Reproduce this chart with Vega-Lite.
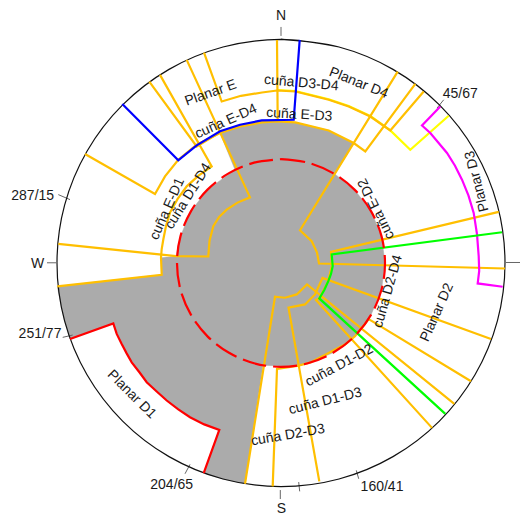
{"$schema":"https://vega.github.io/schema/vega-lite/v6.json","width":525,"height":516,"padding":0,"autosize":{"type":"fit","contains":"padding"},"background":"white","config":{"view":{"stroke":null}},
"datasets":{
"zone":[{"i":0,"x":-105,"y":6.8},{"i":1,"x":-100.5,"y":26.9},{"i":2,"x":-90,"y":52},{"i":3,"x":-73.5,"y":73.5},{"i":4,"x":-46,"y":93.5},{"i":5,"x":-61,"y":130.2},{"i":6,"x":-41,"y":136.8},{"i":7,"x":-19.3,"y":140.8},{"i":8,"x":-4,"y":141.8},{"i":9,"x":14.3,"y":140.8},{"i":10,"x":47.7,"y":132.8},{"i":11,"x":72.7,"y":120.2},{"i":12,"x":54,"y":89},{"i":13,"x":73.5,"y":73.5},{"i":14,"x":90,"y":52},{"i":15,"x":100.5,"y":26.9},{"i":16,"x":104,"y":0},{"i":17,"x":100.5,"y":-26.9},{"i":18,"x":90,"y":-52},{"i":19,"x":73.5,"y":-73.5},{"i":20,"x":52,"y":-90},{"i":21,"x":26.9,"y":-100.5},{"i":22,"x":9,"y":-103.6},{"i":23,"x":-18,"y":-102.4},{"i":24,"x":-36,"y":-221.2},{"i":25,"x":-58,"y":-216.4},{"i":26,"x":-77.3,"y":-210.5},{"i":27,"x":-61.7,"y":-167.2},{"i":27.5,"x":-76.8,"y":-161.7},{"i":28,"x":-91,"y":-154.5},{"i":28.5,"x":-102.7,"y":-146.6},{"i":29,"x":-114.3,"y":-137.8},{"i":29.5,"x":-124.3,"y":-128.8},{"i":30,"x":-134.3,"y":-119.5},{"i":30.5,"x":-141.6,"y":-109.5},{"i":31,"x":-149.3,"y":-99.5},{"i":31.5,"x":-154.5,"y":-90.3},{"i":32,"x":-159.3,"y":-81.2},{"i":32.5,"x":-164.3,"y":-71.1},{"i":33,"x":-167.7,"y":-60.5},{"i":34,"x":-211,"y":-76.2},{"i":35,"x":-216.4,"y":-58},{"i":36,"x":-220.6,"y":-38.9},{"i":37,"x":-223.7,"y":-23.5},{"i":38,"x":-119.3,"y":-11.8},{"i":39,"x":-120,"y":5.5}],
"outer":[{"i":0,"x":0,"y":224},{"i":1,"x":58,"y":216.4},{"i":2,"x":112,"y":194},{"i":3,"x":158.4,"y":158.4},{"i":4,"x":194,"y":112},{"i":5,"x":216.4,"y":58},{"i":6,"x":224,"y":0},{"i":7,"x":216.4,"y":-58},{"i":8,"x":194,"y":-112},{"i":9,"x":158.4,"y":-158.4},{"i":10,"x":112,"y":-194},{"i":11,"x":58,"y":-216.4},{"i":12,"x":0,"y":-224},{"i":13,"x":-58,"y":-216.4},{"i":14,"x":-112,"y":-194},{"i":15,"x":-158.4,"y":-158.4},{"i":16,"x":-194,"y":-112},{"i":17,"x":-216.4,"y":-58},{"i":18,"x":-224,"y":0},{"i":19,"x":-216.4,"y":58},{"i":20,"x":-194,"y":112},{"i":21,"x":-158.4,"y":158.4},{"i":22,"x":-112,"y":194},{"i":23,"x":-58,"y":216.4},{"i":24,"x":0,"y":224},{"i":25,"x":58,"y":216.4}],
"ring":[{"i":0,"x":0,"y":104},{"i":1,"x":26.9,"y":100.5},{"i":2,"x":52,"y":90},{"i":3,"x":73.5,"y":73.5},{"i":4,"x":90,"y":52},{"i":5,"x":100.5,"y":26.9},{"i":6,"x":104,"y":0},{"i":7,"x":100.5,"y":-26.9},{"i":8,"x":90,"y":-52},{"i":9,"x":73.5,"y":-73.5},{"i":10,"x":52,"y":-90},{"i":11,"x":26.9,"y":-100.5},{"i":12,"x":0,"y":-104},{"i":13,"x":-26.9,"y":-100.5},{"i":14,"x":-52,"y":-90},{"i":15,"x":-73.5,"y":-73.5},{"i":16,"x":-90,"y":-52},{"i":17,"x":-100.5,"y":-26.9},{"i":18,"x":-104,"y":0},{"i":19,"x":-100.5,"y":26.9},{"i":20,"x":-90,"y":52},{"i":21,"x":-73.5,"y":73.5},{"i":22,"x":-52,"y":90},{"i":23,"x":-26.9,"y":100.5},{"i":24,"x":0,"y":104}],
"lines":[
{"s":"yellow D4","i":0,"x":167.7,"y":147.5},{"s":"yellow D4","i":1,"x":129.3,"y":113.5},{"s":"yellow D4","i":2,"x":109.3,"y":132.8},{"s":"yellow D4","i":3,"x":89.3,"y":147.3},{"s":"yellow D4","i":4,"x":67.7,"y":157.3},{"s":"yellow D4","i":5,"x":47.7,"y":164},{"s":"yellow D4","i":6,"x":14.3,"y":172.3},{"s":"yellow D4","i":7,"x":-4,"y":173.3},
{"s":"planar E","i":8,"x":142.7,"y":171.8},{"s":"planar E","i":9,"x":109.3,"y":132.8},{"s":"planar E","i":10,"x":89.3,"y":146.8},{"s":"planar E","i":11,"x":67.7,"y":156.8},{"s":"planar E","i":12,"x":47.7,"y":163.5},{"s":"planar E","i":13,"x":14.3,"y":171.8},{"s":"planar E","i":14,"x":-4,"y":172.8},{"s":"planar E","i":15,"x":-19,"y":170.8},{"s":"planar E","i":16,"x":-40,"y":167.5},{"s":"planar E","i":17,"x":-59.3,"y":161.8},{"s":"planar E","i":18,"x":-77,"y":210.8},
{"s":"wedge E-D3","i":19,"x":-196,"y":109.2},{"s":"wedge E-D3","i":20,"x":-126,"y":69.2},{"s":"wedge E-D3","i":21,"x":-116,"y":86.8},{"s":"wedge E-D3","i":22,"x":-102.7,"y":103.5},{"s":"wedge E-D3","i":23,"x":-84.3,"y":118.5},{"s":"wedge E-D3","i":24,"x":-61,"y":130.2},{"s":"wedge E-D3","i":25,"x":-41,"y":136.8},{"s":"wedge E-D3","i":26,"x":-19.3,"y":140.8},{"s":"wedge E-D3","i":27,"x":-4,"y":141.8},{"s":"wedge E-D3","i":28,"x":14.3,"y":140.8},{"s":"wedge E-D3","i":29,"x":47.7,"y":132.8},{"s":"wedge E-D3","i":30,"x":72.7,"y":120.2},{"s":"wedge E-D3","i":31,"x":84.3,"y":111.8},{"s":"wedge E-D3","i":32,"x":134.3,"y":179.5},
{"s":"wedge E-D4","i":33,"x":-131.7,"y":181.8},{"s":"wedge E-D4","i":34,"x":-84.3,"y":116.8},{"s":"wedge E-D4","i":35,"x":-61,"y":131},{"s":"wedge E-D4","i":36,"x":-41,"y":137.5},{"s":"wedge E-D4","i":37,"x":-19.3,"y":141.5},{"s":"wedge E-D4","i":38,"x":-3.3,"y":142.5},{"s":"wedge E-D4","i":39,"x":-4,"y":223.5},
{"s":"wedge D1-D4","i":40,"x":-121,"y":188.5},{"s":"wedge D1-D4","i":41,"x":-69.3,"y":96.8},{"s":"wedge D1-D4","i":41.5,"x":-82.5,"y":87.5},{"s":"wedge D1-D4","i":42,"x":-94.3,"y":76.8},{"s":"wedge D1-D4","i":42.5,"x":-103.5,"y":64},{"s":"wedge D1-D4","i":43,"x":-111,"y":50.5},{"s":"wedge D1-D4","i":43.5,"x":-115,"y":37},{"s":"wedge D1-D4","i":44,"x":-117.7,"y":23.5},{"s":"wedge D1-D4","i":44.5,"x":-119.3,"y":14},{"s":"wedge D1-D4","i":45,"x":-120,"y":5.5},{"s":"wedge D1-D4","i":46,"x":-119.3,"y":-11.8},{"s":"wedge D1-D4","i":47,"x":-223.7,"y":-23.5},
{"s":"wedge E-D1","i":48,"x":-94.3,"y":203.5},{"s":"wedge E-D1","i":49,"x":-31,"y":65.8},{"s":"wedge E-D1","i":49.5,"x":-43.5,"y":60.5},{"s":"wedge E-D1","i":50,"x":-54.3,"y":53.5},{"s":"wedge E-D1","i":50.5,"x":-62,"y":46},{"s":"wedge E-D1","i":51,"x":-67.7,"y":36.8},{"s":"wedge E-D1","i":51.5,"x":-71.5,"y":22},{"s":"wedge E-D1","i":52,"x":-72.7,"y":6.5},{"s":"wedge E-D1","i":53,"x":-105,"y":6.8},{"s":"wedge E-D1","i":54,"x":-222.7,"y":19.2},
{"s":"wedge E-D2","i":55,"x":116.7,"y":191.8},{"s":"wedge E-D2","i":56,"x":19,"y":32.8},{"s":"wedge E-D2","i":57,"x":30.7,"y":21.8},{"s":"wedge E-D2","i":58,"x":36,"y":10.5},{"s":"wedge E-D2","i":59,"x":38,"y":-0.5},{"s":"wedge E-D2","i":60,"x":224,"y":-5.5},
{"s":"wedge D1-D2","i":61,"x":151,"y":-165.2},{"s":"wedge D1-D2","i":62,"x":35,"y":-37},{"s":"wedge D1-D2","i":63,"x":38.5,"y":-35},{"s":"wedge D1-D2","i":64,"x":47,"y":-18.5},{"s":"wedge D1-D2","i":65,"x":51,"y":-2.5},{"s":"wedge D1-D2","i":66,"x":50,"y":11.2},{"s":"wedge D1-D2","i":67,"x":217.7,"y":51.2},
{"s":"wedge D2-D3","i":68,"x":-36,"y":-221.2},{"s":"wedge D2-D3","i":69,"x":-6,"y":-33.8},{"s":"wedge D2-D3","i":70,"x":4,"y":-34.8},{"s":"wedge D2-D3","i":71,"x":15.7,"y":-31.5},{"s":"wedge D2-D3","i":72,"x":26,"y":-21.5},{"s":"wedge D2-D3","i":73,"x":173.3,"y":-141.2},
{"s":"wedge D1-D3","i":74,"x":-8.3,"y":-223.8},{"s":"wedge D1-D3","i":75,"x":-4,"y":-106.2},{"s":"wedge D1-D3","i":76,"x":17.7,"y":-102.8},{"s":"wedge D1-D3","i":77,"x":30,"y":-99.5},{"s":"wedge D1-D3","i":78,"x":64.3,"y":-81.5},{"s":"wedge D1-D3","i":79,"x":74,"y":-73.5},{"s":"wedge D1-D3","i":80,"x":87.7,"y":-56.2},{"s":"wedge D1-D3","i":81,"x":190,"y":-118.5},
{"s":"wedge D2-D4","i":82,"x":210,"y":-76.2},{"s":"wedge D2-D4","i":83,"x":41.5,"y":-15},{"s":"wedge D2-D4","i":84,"x":34,"y":-31.5},{"s":"wedge D2-D4","i":85,"x":24,"y":-41.5},{"s":"wedge D2-D4","i":86,"x":7.5,"y":-44.8},{"s":"wedge D2-D4","i":87,"x":38.3,"y":-218.8},
{"s":"magenta D3","i":88,"x":159.3,"y":156.8},{"s":"magenta D3","i":89,"x":141,"y":137.8},{"s":"magenta D3","i":90,"x":149.3,"y":130.2},{"s":"magenta D3","i":91,"x":166,"y":110.2},{"s":"magenta D3","i":91.5,"x":174,"y":97.5},{"s":"magenta D3","i":92,"x":181,"y":83.5},{"s":"magenta D3","i":92.5,"x":187.5,"y":67.5},{"s":"magenta D3","i":93,"x":192.7,"y":50.2},{"s":"magenta D3","i":93.5,"x":196,"y":29},{"s":"magenta D3","i":94,"x":197.7,"y":6.8},{"s":"magenta D3","i":94.5,"x":198.2,"y":-8},{"s":"magenta D3","i":95,"x":196.7,"y":-20.5},{"s":"magenta D3","i":96,"x":221.7,"y":-23.8},
{"s":"green D2","i":97,"x":221,"y":30.8},{"s":"green D2","i":98,"x":50.7,"y":8.5},{"s":"green D2","i":99,"x":51.7,"y":-3.2},{"s":"green D2","i":99.5,"x":50,"y":-11},{"s":"green D2","i":100,"x":47.3,"y":-18.2},{"s":"green D2","i":100.5,"x":43.3,"y":-27},{"s":"green D2","i":101,"x":38.3,"y":-35.5},{"s":"green D2","i":102,"x":164.3,"y":-151.2},
{"s":"blue E","i":103,"x":-158.7,"y":159.2},{"s":"blue E","i":104,"x":-102.7,"y":102.8},{"s":"blue E","i":105,"x":-84.3,"y":117.8},{"s":"blue E","i":106,"x":-61,"y":132},{"s":"blue E","i":107,"x":-41,"y":138.5},{"s":"blue E","i":108,"x":-19.3,"y":142.8},{"s":"blue E","i":109,"x":12.7,"y":143.5},{"s":"blue E","i":110,"x":18.7,"y":223.5},
{"s":"red D1","i":111,"x":-211,"y":-76.2},{"s":"red D1","i":112,"x":-167.7,"y":-60.5},{"s":"red D1","i":112.5,"x":-164.3,"y":-71.1},{"s":"red D1","i":113,"x":-159.3,"y":-81.2},{"s":"red D1","i":113.5,"x":-154.5,"y":-90.3},{"s":"red D1","i":114,"x":-149.3,"y":-99.5},{"s":"red D1","i":114.5,"x":-141.6,"y":-109.5},{"s":"red D1","i":115,"x":-134.3,"y":-119.5},{"s":"red D1","i":115.5,"x":-124.3,"y":-128.8},{"s":"red D1","i":116,"x":-114.3,"y":-137.8},{"s":"red D1","i":116.5,"x":-102.7,"y":-146.6},{"s":"red D1","i":117,"x":-91,"y":-154.5},{"s":"red D1","i":117.5,"x":-76.8,"y":-161.7},{"s":"red D1","i":118,"x":-61.7,"y":-167.2},{"s":"red D1","i":119,"x":-77.3,"y":-210.5}
],
"ticks":[{"x":0,"y":236.5,"x2":0,"y2":227.5},{"x":-234,"y":0.2,"x2":-225,"y2":0.2},{"x":-0.7,"y":-227.5,"x2":-0.7,"y2":-236.5},{"x":225,"y":0.5,"x2":239,"y2":0.5},{"x":-222.7,"y":68.5,"x2":-211,"y2":63.5},{"x":-218.3,"y":-74.5,"x2":-208.3,"y2":-72.2},{"x":-91,"y":-201.8,"x2":-96,"y2":-211.2},{"x":75.3,"y":-207.8,"x2":77.7,"y2":-216.2},{"x":162.7,"y":163.5,"x2":156,"y2":155.2},{"x":17.7,"y":-219.5,"x2":18.7,"y2":-228.8}],
"labels":[{"label":"N","x":0,"y":247.8},{"label":"W","x":-243.3,"y":-1.2},{"label":"S","x":0.3,"y":-246.5},{"label":"287/15","x":-248.3,"y":67.5},{"label":"251/77","x":-241,"y":-71.2},{"label":"204/65","x":-109.3,"y":-222.5},{"label":"160/41","x":101,"y":-224.5},{"label":"45/67","x":179.3,"y":169.8},{"label":"Planar E","x":-70.3,"y":170.2},{"label":"cuña E-D4","x":-55,"y":141.8},{"label":"cuña E-D1","x":-113.7,"y":54.2},{"label":"cuña D1-D4","x":-92.7,"y":66.8},{"label":"cuña D3-D4","x":20.3,"y":180.2},{"label":"cuña E-D3","x":18.3,"y":148.5},{"label":"Planar D4","x":77.7,"y":180.2},{"label":"Planar D3","x":196,"y":81.8},{"label":"cuña E-D2","x":95.3,"y":54.2},{"label":"cuña D2-D4","x":107,"y":-28.5},{"label":"Planar D2","x":156,"y":-49.5},{"label":"cuña D1-D2","x":58.3,"y":-102.8},{"label":"cuña D1-D3","x":44.3,"y":-138.5},{"label":"cuña D2-D3","x":7,"y":-172.5},{"label":"Planar D1","x":-149.3,"y":-131.8}]
},
"encoding":{"x":{"field":"x","type":"quantitative","axis":null,"scale":{"domain":[-281,244],"nice":false,"zero":false}},"y":{"field":"y","type":"quantitative","axis":null,"scale":{"domain":[-252.5,263.5],"nice":false,"zero":false}}},
"layer":[
{"data":{"name":"zone"},"mark":{"type":"line","fill":"#ABABAB","stroke":"#ABABAB","strokeWidth":0.5},"encoding":{"order":{"field":"i"}}},
{"data":{"name":"ticks"},"mark":{"type":"rule","color":"#666666","strokeWidth":1},"encoding":{"x2":{"field":"x2"},"y2":{"field":"y2"}}},
{"data":{"name":"outer"},"mark":{"type":"line","color":"#111111","strokeWidth":1.2,"interpolate":"catmull-rom"},"encoding":{"order":{"field":"i"}}},
{"data":{"name":"lines"},"mark":{"type":"line","strokeWidth":2.2,"strokeJoin":"miter"},"encoding":{"order":{"field":"i"},"detail":{"field":"s"},"color":{"field":"s","type":"nominal","legend":null,"scale":{"domain":["yellow D4","planar E","wedge E-D3","wedge E-D4","wedge D1-D4","wedge E-D1","wedge E-D2","wedge D1-D2","wedge D2-D3","wedge D1-D3","wedge D2-D4","magenta D3","green D2","blue E","red D1"],"range":["#FFFF00","#FFBF00","#FFBF00","#FFBF00","#FFBF00","#FFBF00","#FFBF00","#FFBF00","#FFBF00","#FFBF00","#FFBF00","#FF00FF","#00FF00","#0000FF","#FF0000"]}}}},
{"data":{"name":"ring"},"mark":{"type":"line","color":"#FF0000","strokeWidth":2.2,"strokeDash":[24,7],"interpolate":"catmull-rom"},"encoding":{"order":{"field":"i"}}},
{"data":{"name":"labels"},"mark":{"type":"text","font":"Liberation Sans","fontSize":14,"color":"#1a1a1a","align":"center","baseline":"middle"},"encoding":{"text":{"field":"label"},"angle":{"field":"label","type":"nominal","legend":null,"scale":{"type":"ordinal","domain":["N","W","S","287/15","251/77","204/65","160/41","45/67","Planar E","cuña E-D4","cuña E-D1","cuña D1-D4","cuña D3-D4","cuña E-D3","Planar D4","Planar D3","cuña E-D2","cuña D2-D4","Planar D2","cuña D1-D2","cuña D1-D3","cuña D2-D3","Planar D1"],"range":[0,0,0,0,0,0,0,0,340.5,336,294,302,5,3.5,22,256,244,286,294,332,346,350,45]}}}}
]}
